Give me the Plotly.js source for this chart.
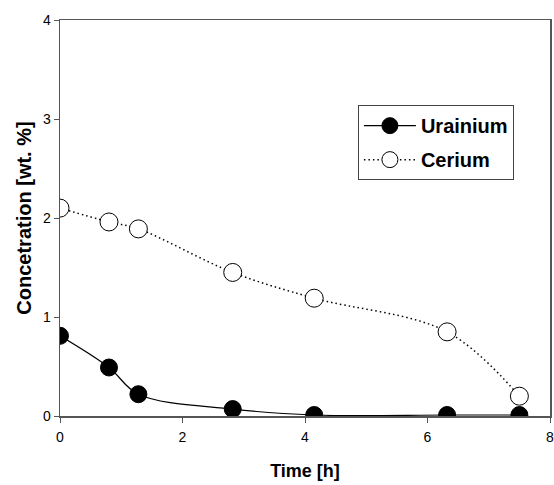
<!DOCTYPE html>
<html>
<head>
<meta charset="utf-8">
<script src="https://cdn.plot.ly/plotly-3.0.1.min.js"></script>
<style>html,body{margin:0;padding:0;background:#fff;}#chart{width:554px;height:485px;}</style>
</head>
<body>
<div id="chart"></div>
<script>
var timeU = [0, 0.8, 1.28, 2.82, 4.15, 6.32, 7.5];
var uranium = [0.81, 0.49, 0.22, 0.07, 0.01, 0.01, 0.01];
var timeCe = [0, 0.8, 1.28, 2.82, 4.15, 6.32, 7.5];
var cerium = [2.10, 1.96, 1.89, 1.45, 1.19, 0.85, 0.20];
var xTicks = [0, 2, 4, 6, 8];
var yTicks = [0, 1, 2, 3, 4];

var traces = [
  {x: timeU, y: uranium, name: 'Urainium', type: 'scatter', mode: 'lines+markers',
   legendgroup: 'u',
   line: {shape: 'spline', color: '#000', width: 1.2},
   marker: {symbol: 'circle', size: 17, color: '#000', line: {color: '#000', width: 1}}},
  {x: timeCe, y: cerium, name: 'Cerium', type: 'scatter', mode: 'lines+markers',
   legendgroup: 'c',
   line: {shape: 'spline', color: '#000', width: 1.5, dash: '1.5px,3px'},
   marker: {symbol: 'circle', size: 18, color: '#fff', line: {color: '#000', width: 1}}}
];

var layout = {
  width: 554, height: 485,
  margin: {l: 60, r: 4, t: 20, b: 69},
  paper_bgcolor: '#fff', plot_bgcolor: '#fff',
  font: {family: 'Liberation Sans, Arial, sans-serif', color: '#000'},
  showlegend: true,
  legend: {x: 0.608, y: 0.785, xanchor: 'left', yanchor: 'top',
    bordercolor: '#444', borderwidth: 1, bgcolor: '#fff',
    font: {size: 20, family: 'Liberation Sans, Arial, sans-serif', weight: 'bold'},
    traceorder: 'grouped', tracegroupgap: 5, itemwidth: 52},
  xaxis: {range: [0, 8], tickvals: xTicks, ticktext: xTicks.map(String),
    showgrid: false, zeroline: false, showline: true, linecolor: '#555', linewidth: 1.5,
    mirror: true, ticks: 'outside', ticklen: 5, tickcolor: '#555',
    tickfont: {size: 14}, ticklabelstandoff: 3, ticklabeloverflow: 'allow',
    title: {text: 'Time [h]', font: {size: 18, weight: 'bold'}, standoff: 20}},
  yaxis: {range: [0, 4], tickvals: yTicks, ticktext: yTicks.map(String),
    showgrid: false, zeroline: false, showline: true, linecolor: '#555', linewidth: 1.5,
    mirror: true, ticks: 'outside', ticklen: 5, tickcolor: '#555',
    tickfont: {size: 14}, ticklabeloverflow: 'allow',
    title: {text: 'Concetration [wt. %]', font: {size: 20, weight: 'bold'}, standoff: 6}}
};

Plotly.newPlot('chart', traces, layout, {displayModeBar: false, staticPlot: true});
</script>
</body>
</html>
